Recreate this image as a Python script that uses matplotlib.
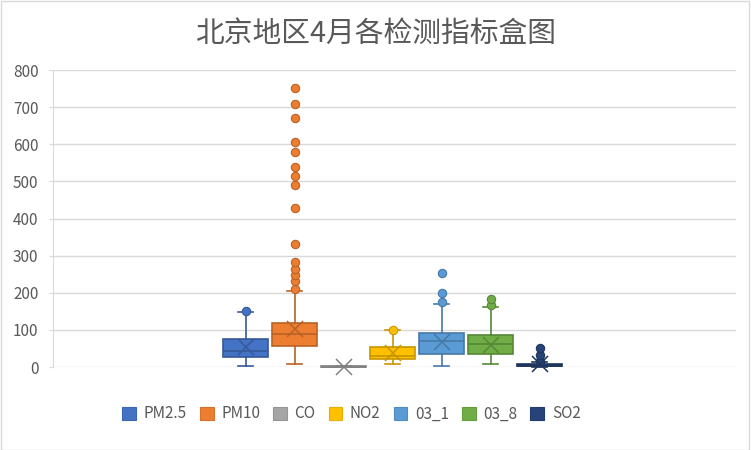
import matplotlib

matplotlib.use("Agg")
import matplotlib.pyplot as plt
from matplotlib.colors import to_rgb
from matplotlib.patches import Patch, Rectangle

plt.rcParams["font.family"] = ["Noto Sans CJK SC", "DejaVu Sans"]

# values
names = ["PM2.5", "PM10", "CO", "NO2", "03_1", "03_8", "SO2"]
colors = ["#4472C4", "#ED7D31", "#A5A5A5", "#FFC000", "#5B9BD5", "#70AD47", "#264478"]
q1 = [27, 57, 0.5, 21, 34, 34, 2]
median = [43, 88, 0.9, 31, 71, 62, 4]
q3 = [75, 118, 1.5, 54, 92, 86, 8]
mean = [54, 103, 1.2, 38, 67, 60, 7]
whis_lo = [2, 8, 0.1, 7, 3, 7, 1]
whis_hi = [148, 205, 3, 99, 169, 163, 13]
fliers = [
    [150],
    [211, 231, 248, 263, 282, 331, 427, 490, 514, 538, 580, 606, 670, 708, 751],
    [],
    [100],
    [174, 199, 252],
    [166, 184],
    [16, 32, 50],
]
y_ticks = [0, 100, 200, 300, 400, 500, 600, 700, 800]

title = "北京地区4月各检测指标盒图"
text_color = "#595959"
grid_color = "#D9D9D9"


def darker(c, f=0.78):
    r, g, b = to_rgb(c)
    return (r * f, g * f, b * f)


fig = plt.figure(figsize=(7.51, 4.50), dpi=100)
ax = fig.add_axes([0.0706, 0.1844, 0.9095, 0.66])

for i, name in enumerate(names):
    stats = [{
        "label": name,
        "q1": q1[i], "med": median[i], "q3": q3[i], "mean": mean[i],
        "whislo": whis_lo[i], "whishi": whis_hi[i], "fliers": fliers[i],
    }]
    c = colors[i]
    dc = darker(c)
    ax.bxp(
        stats, positions=[i], widths=0.92, patch_artist=True, showmeans=True,
        boxprops=dict(facecolor=c, edgecolor=dc, linewidth=1.2),
        medianprops=dict(color=dc, linewidth=1.2),
        whiskerprops=dict(color=dc, linewidth=1.2),
        capprops=dict(color=dc, linewidth=1.2),
        capwidths=0.29,
        meanprops=dict(marker="x", markersize=11, markeredgecolor=dc, markeredgewidth=1.1),
        flierprops=dict(marker="o", markersize=6, markerfacecolor=c, markeredgecolor=dc,
                        markeredgewidth=0.8),
        manage_ticks=False,
    )

for art in ax.get_children():
    try:
        art.set_clip_on(False)
    except AttributeError:
        pass

ax.set_xlim(-3.93, 10.01)
ax.set_ylim(0, 800)
ax.set_yticks(y_ticks)
ax.set_xticks([])
ax.yaxis.grid(True, color=grid_color, linewidth=1)
ax.set_axisbelow(True)
for side in ["top", "right", "bottom"]:
    ax.spines[side].set_visible(False)
ax.spines["left"].set_color(grid_color)
ax.tick_params(axis="y", colors=grid_color, length=3, pad=7.5, labelsize=11,
               labelcolor=text_color)

fig.text(0.5, 0.925, title, ha="center", va="center", fontsize=20.7, color=text_color)

handles = [Patch(facecolor=c, edgecolor=darker(c, 0.9), linewidth=0.8) for c in colors]
fig.legend(handles, names, loc="center", bbox_to_anchor=(0.468, 0.08), ncol=7,
           frameon=False, fontsize=11, labelcolor=text_color, handlelength=0.9,
           handleheight=0.9, handletextpad=0.5, columnspacing=0.85)

fig.patches.append(Rectangle((0.001, 0.001), 0.997, 0.997, transform=fig.transFigure,
                             fill=False, edgecolor=grid_color, linewidth=1))

fig.savefig("out.png", dpi=100)
